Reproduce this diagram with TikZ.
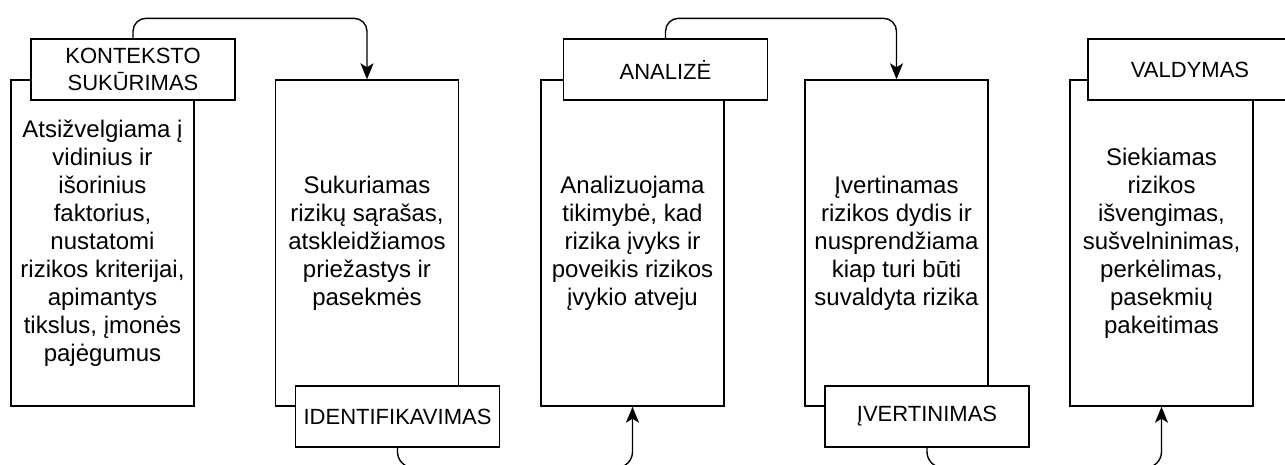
\documentclass[tikz,border=0pt]{standalone}
\usepackage{fontspec}
\setmainfont{Liberation Sans}
\usetikzlibrary{arrows.meta}

\begin{document}
\begin{tikzpicture}[x=1pt,y=-1pt,line width=1.4pt,->,>={Stealth[length=16pt,width=13pt,inset=4pt]}]
  \tikzstyle{body}=[draw,fill=white,minimum width=183pt,minimum height=326pt,align=center,inner sep=0pt,font=\fontsize{24}{28}\selectfont]
  \tikzstyle{head}=[draw,fill=white,minimum width=204pt,minimum height=61pt,align=center,inner sep=0pt,font=\fontsize{22}{27}\selectfont]
  \useasboundingbox (0,0) rectangle (1285,464);
  \clip (0,0) rectangle (1285,464);

  \node[body] (B_1) at (102.5,243) {Atsižvelgiama į\\vidinius ir\\išorinius\\faktorius,\\nustatomi\\rizikos kriterijai,\\apimantys\\tikslus, įmonės\\pajėgumus};
  \node[body] (B_2) at (367,243) {Sukuriamas\\rizikų sąrašas,\\atskleidžiamos\\priežastys ir\\pasekmės};
  \node[body] (B_3) at (632.5,243) {Analizuojama\\tikimybė, kad\\rizika įvyks ir\\poveikis rizikos\\įvykio atveju};
  \node[body] (B_4) at (896.5,243) {Įvertinamas\\rizikos dydis ir\\nusprendžiama\\kiap turi būti\\suvaldyta rizika};
  \node[body] (B_5) at (1161.5,243) {Siekiamas\\rizikos\\išvengimas,\\sušvelninimas,\\perkėlimas,\\pasekmių\\pakeitimas};

  \node[head] (H_1) at (133,69.5) {KONTEKSTO\\SUKŪRIMAS};
  \node[head] (H_2) at (397.5,416.5) {IDENTIFIKAVIMAS};
  \node[head] (H_3) at (665.5,69.5) {ANALIZĖ};
  \node[head] (H_4) at (927,416.5) {ĮVERTINIMAS};
  \node[head] (H_5) at (1190,69.5) {VALDYMAS};

  \draw[rounded corners=13pt] (H_1.north) -- ++(0,-20) -| (B_2.north);
  \draw[rounded corners=16pt] (H_2.south) -- ++(0,20) -| (B_3.south);
  \draw[rounded corners=13pt] (H_3.north) -- ++(0,-20) -| (B_4.north);
  \draw[rounded corners=16pt] (H_4.south) -- ++(0,20) -| (B_5.south);
\end{tikzpicture}
\end{document}
